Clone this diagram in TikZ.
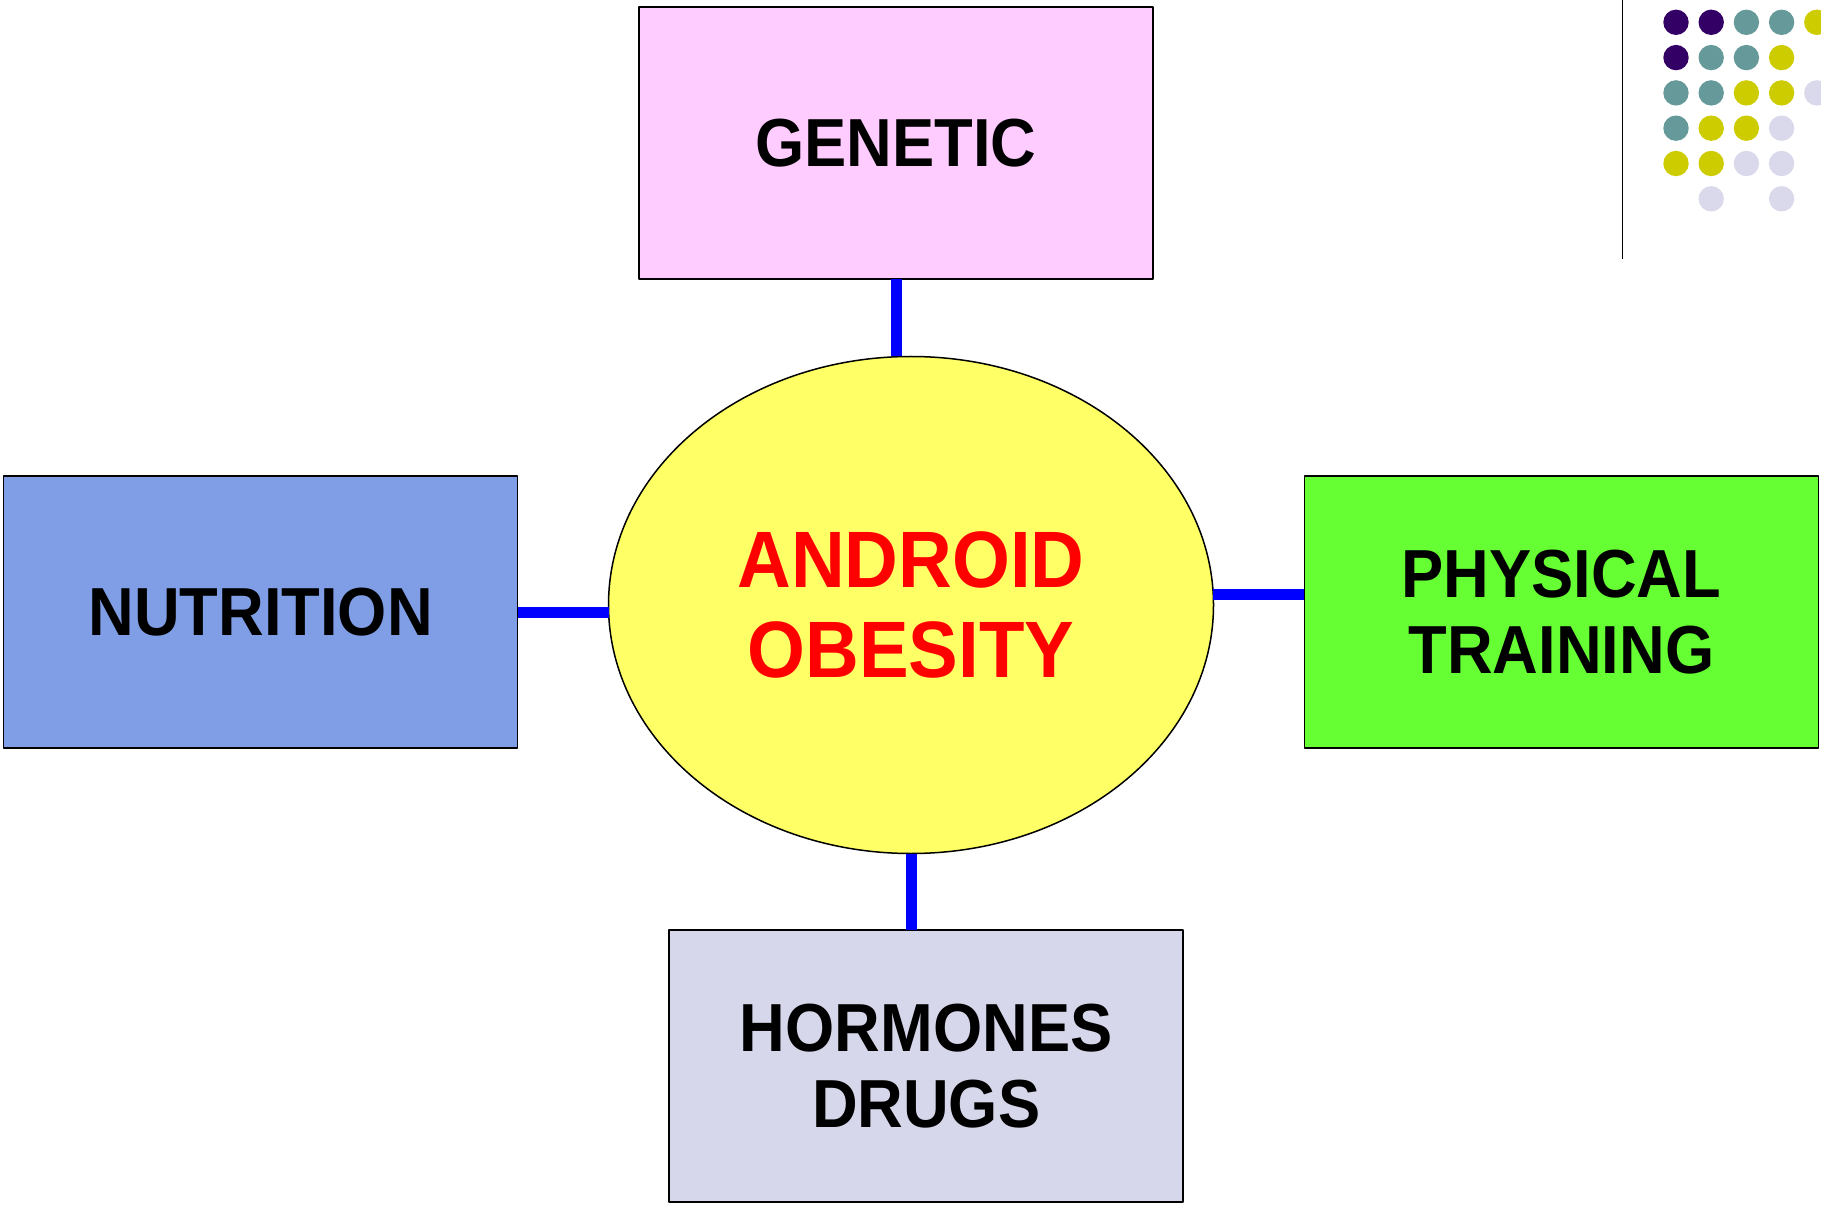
\documentclass[tikz,border=0pt]{standalone}
\usepackage{fontspec}
\setmainfont{Liberation Sans}[FakeStretch=0.93]
\usepackage{tikz}
\usetikzlibrary{shapes.geometric}
\definecolor{pinkbox}{HTML}{FFCCFF}
\definecolor{bluebox}{HTML}{809EE6}
\definecolor{greenbox}{HTML}{66FF33}
\definecolor{greybox}{HTML}{D7D7EB}
\definecolor{hubyellow}{HTML}{FFFF66}
\definecolor{linkblue}{HTML}{0000FF}
\definecolor{dotP}{HTML}{330066}
\definecolor{dotT}{HTML}{669999}
\definecolor{dotY}{HTML}{CCCC00}
\definecolor{dotL}{HTML}{D9D9EB}
\tikzset{
  every picture/.style={line join=round},
  factor/.style={draw=black, line width=0.75pt, rectangle, minimum width=257pt, minimum height=136pt,
    inner sep=0pt, outer sep=0pt, align=center, font=\fontsize{34}{37.75}\selectfont\bfseries},
  hub/.style={draw=black, line width=0.75pt, ellipse, fill=hubyellow, minimum width=302.5pt, minimum height=248.5pt,
    inner sep=0pt, outer sep=0pt, align=center, text=red, font=\fontsize{40}{44.7}\selectfont\bfseries},
  link/.style={draw=linkblue, line width=5.5pt},
}
\begin{document}
\begin{tikzpicture}[x=0.5pt,y=-0.5pt]
\useasboundingbox (0,0) rectangle (1821,1208);
% centre and the four factors
\node[hub] (obesity) at (911,605) {ANDROID\\OBESITY};
\node[factor, fill=pinkbox] (genetic) at (896,143) {GENETIC};
\node[factor, fill=bluebox] (nutrition) at (260.7,612) {NUTRITION};
\node[factor, fill=greenbox] (training) at (1561.4,612) {PHYSICAL\\TRAINING};
\node[factor, fill=greybox] (hormones) at (926.2,1066) {HORMONES\\DRUGS};
% links
\draw[link] (genetic.south)--(genetic.south |- obesity.north);
\draw[link] (nutrition.east)--(nutrition.east -| obesity.west);
\draw[link] (obesity.2)--(obesity.2 -| training.west);
\draw[link] (obesity.south)--(obesity.south |- hormones.north);
% corner decoration
\coordinate (rule top) at (1622.5,0);
\coordinate (rule end) at (1622.5,259);
\draw[line width=0.85pt] (rule top)--(rule end);
\foreach \i/\j/\c in {0/0/dotP,1/0/dotP,2/0/dotT,3/0/dotT,4/0/dotY,
  0/1/dotP,1/1/dotT,2/1/dotT,3/1/dotY,
  0/2/dotT,1/2/dotT,2/2/dotY,3/2/dotY,4/2/dotL,
  0/3/dotT,1/3/dotY,2/3/dotY,3/3/dotL,
  0/4/dotY,1/4/dotY,2/4/dotL,3/4/dotL,
  1/5/dotL,3/5/dotL}
  \fill[\c] ({1676+35.2*\i},{22.3+35.3*\j}) circle[radius=6.35pt];
\end{tikzpicture}
\end{document}
